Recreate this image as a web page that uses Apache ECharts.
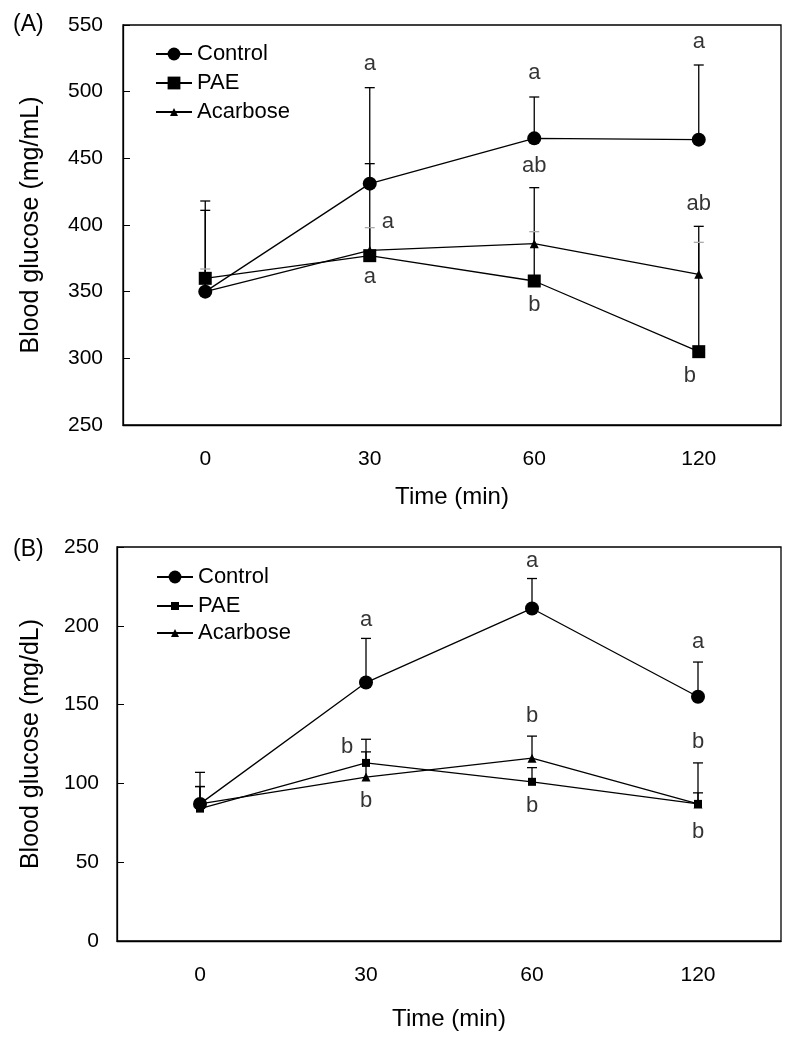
<!DOCTYPE html>
<html>
<head>
<meta charset="utf-8">
<title>Blood glucose</title>
<script src="https://cdn.jsdelivr.net/npm/echarts@6/dist/echarts.min.js"></script>
<style>
  html, body { margin: 0; padding: 0; background: #fff; }
  #main { width: 797px; height: 1050px; }
</style>
</head>
<body>
<div id="main"></div>
<script>
// time points (min)
var times = ['0', '30', '60', '120'];

// (A) means and top of error bars
var ctrlA = [350, 431, 465, 464];
var paeA = [360, 377, 358, 305];
var acaA = [350, 381, 386, 363];
var ctrlUpA = [418, 503, 496, 520];
var paeUpA = [367, 398, 395, 387];
var acaUpA = [411, 446, 428, 399];

// (B)
var ctrlB = [87, 164, 211, 155];
var paeB = [84, 113, 101, 87];
var acaB = [87, 104, 116, 87];
var ctrlUpB = [107, 192, 230, 177];
var paeUpB = [98, 128, 110, 94];
var acaUpB = [98, 120, 130, 113];

// significance letters: time index, y value, text
var letIdxA = [1, 1, 1, 2, 2, 2, 3, 3, 3];
var letValA = [521, 402, 361, 514, 444, 340, 537, 416, 287];
var letTxtA = ['a', 'a', 'a', 'a', 'ab', 'b', 'a', 'ab', 'b'];
var letIdxB = [1, 1, 1, 2, 2, 2, 3, 3, 3];
var letValB = [204, 123, 89, 241, 143, 86, 190, 126, 69];
var letTxtB = ['a', 'b', 'b', 'a', 'b', 'b', 'a', 'b', 'b'];

var FONT = 'Liberation Sans, Arial, sans-serif';
var chart = echarts.init(document.getElementById('main'), null, { renderer: 'canvas' });

function pts(arr) {
  return arr.map(function (v, i) { return [i, v]; });
}
function bars(mean, up) {
  return mean.map(function (v, i) { return [i, v, up[i]]; });
}
function letters(idx, val, txt, dx) {
  return idx.map(function (c, i) {
    return { value: [c, val[i]], label: { formatter: txt[i], offset: [dx[i] || 0, 0] } };
  });
}

function errSeries(name, g, data, capColor) {
  return {
    name: name,
    type: 'custom',
    xAxisIndex: g, yAxisIndex: g,
    z: 1,
    silent: true,
    renderItem: function (params, api) {
      var p0 = api.coord([api.value(0), api.value(1)]);
      var p1 = api.coord([api.value(0), api.value(2)]);
      return {
        type: 'group',
        children: [
          { type: 'line', shape: { x1: p0[0], y1: p0[1], x2: p1[0], y2: p1[1] }, style: { stroke: '#000', lineWidth: 1.3 } },
          { type: 'line', shape: { x1: p1[0] - 5, y1: p1[1], x2: p1[0] + 5, y2: p1[1] }, style: { stroke: capColor, lineWidth: 1.3 } }
        ]
      };
    },
    data: data
  };
}

function lineSeries(name, g, data, symbol, size) {
  return {
    name: name,
    type: 'line',
    xAxisIndex: g, yAxisIndex: g,
    symbol: symbol,
    symbolSize: size,
    showSymbol: true,
    z: 3,
    itemStyle: { color: '#000' },
    lineStyle: { color: '#000', width: 1.3 },
    data: data
  };
}

function letterSeries(g, data) {
  return {
    type: 'scatter',
    xAxisIndex: g, yAxisIndex: g,
    symbolSize: 0,
    silent: true,
    label: { show: true, position: 'inside', color: '#000', fontSize: 22, fontFamily: FONT },
    data: data
  };
}

function legendItem(name, shown, left, top, h) {
  return {
    data: [name],
    formatter: function () { return shown; },
    left: left, top: top,
    padding: 0,
    itemWidth: 36, itemHeight: h,
    selectedMode: false,
    textStyle: { fontSize: 22, color: '#000', fontFamily: FONT }
  };
}

function xAx(g, gap) {
  return {
    type: 'category',
    gridIndex: g,
    data: times,
    boundaryGap: true,
    name: 'Time (min)',
    nameLocation: 'middle',
    nameGap: gap,
    nameTextStyle: { fontSize: 24, color: '#000', fontFamily: FONT },
    axisLine: { lineStyle: { color: '#000', width: 1.3 } },
    axisTick: { inside: true, length: 7, lineStyle: { color: '#000' } },
    axisLabel: { fontSize: 21, color: '#000', fontFamily: FONT, margin: 24 },
    splitLine: { show: false }
  };
}

function yAx(g, name, min, max, gap, margin) {
  return {
    type: 'value',
    gridIndex: g,
    min: min, max: max, interval: 50,
    name: name,
    nameLocation: 'middle',
    nameGap: gap,
    nameTextStyle: { fontSize: 25, color: '#000', fontFamily: FONT },
    axisLine: { show: true, lineStyle: { color: '#000', width: 1.3 } },
    axisTick: { show: true, inside: true, length: 7, lineStyle: { color: '#000' } },
    axisLabel: { fontSize: 21, color: '#000', fontFamily: FONT, margin: margin },
    splitLine: { show: false }
  };
}

var option = {
  animation: false,
  backgroundColor: '#fff',
  title: [
    { text: '(A)', left: 13, top: 13, padding: 0, textStyle: { fontSize: 23, fontWeight: 'normal', color: '#000', fontFamily: FONT } },
    { text: '(B)', left: 13, top: 538, padding: 0, textStyle: { fontSize: 23, fontWeight: 'normal', color: '#000', fontFamily: FONT } }
  ],
  grid: [
    { left: 123, top: 25, width: 658, height: 400, show: true, borderColor: '#000', borderWidth: 1.3 },
    { left: 117, top: 547, width: 664, height: 394, show: true, borderColor: '#000', borderWidth: 1.3 }
  ],
  xAxis: [xAx(0, 60), xAx(1, 66)],
  yAxis: [
    yAx(0, 'Blood glucose (mg/mL)', 250, 550, 79, 20),
    yAx(1, 'Blood glucose (mg/dL)', 0, 250, 73, 18)
  ],
  legend: [
    legendItem('Control', 'Control', 155, 43, 16),
    legendItem('PAE', 'PAE', 155, 72, 16),
    legendItem('Acarbose', 'Acarbose', 155, 101, 10),
    legendItem('Control B', 'Control', 156, 566, 16),
    legendItem('PAE B', 'PAE', 156, 595, 10),
    legendItem('Acarbose B', 'Acarbose', 156, 622, 10)
  ],
  series: [
    errSeries('errCtrlA', 0, bars(ctrlA, ctrlUpA), '#000'),
    errSeries('errAcaA', 0, bars(acaA, acaUpA), '#000'),
    errSeries('errPaeA', 0, bars(paeA, paeUpA), '#aaa'),
    lineSeries('Acarbose', 0, pts(acaA), 'triangle', 9),
    lineSeries('PAE', 0, pts(paeA), 'rect', 13),
    lineSeries('Control', 0, pts(ctrlA), 'circle', 14),
    letterSeries(0, letters(letIdxA, letValA, letTxtA, [0, 18, 0, 0, 0, 0, 0, 0, -9])),

    errSeries('errCtrlB', 1, bars(ctrlB, ctrlUpB), '#000'),
    errSeries('errAcaB', 1, bars(acaB, acaUpB), '#000'),
    errSeries('errPaeB', 1, bars(paeB, paeUpB), '#000'),
    lineSeries('Acarbose B', 1, pts(acaB), 'triangle', 9),
    lineSeries('PAE B', 1, pts(paeB), 'rect', 8),
    lineSeries('Control B', 1, pts(ctrlB), 'circle', 14),
    letterSeries(1, letters(letIdxB, letValB, letTxtB, [0, -19, 0, 0, 0, 0, 0, 0, 0]))
  ]
};
chart.setOption(option);
</script>
</body>
</html>
